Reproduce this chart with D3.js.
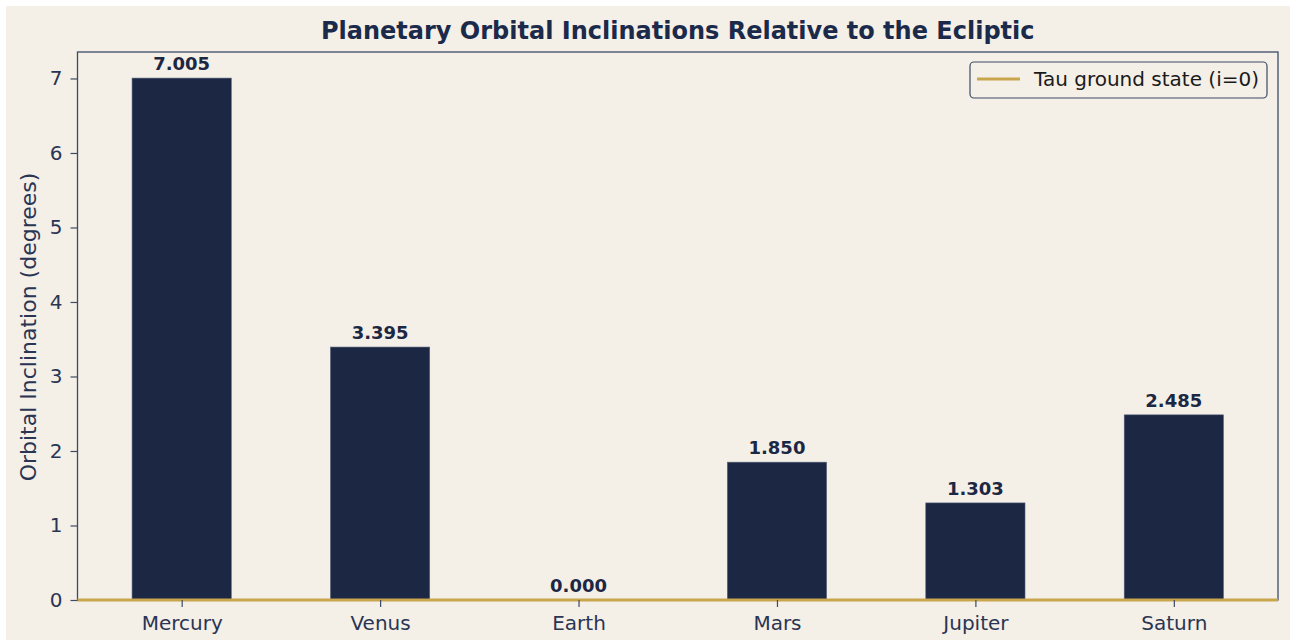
<!DOCTYPE html>
<html><head><meta charset="utf-8">
<script src="https://cdn.jsdelivr.net/npm/d3@7"></script>
<style>
html,body{margin:0;padding:0;background:#ffffff;}
svg{display:block;font-family:"DejaVu Sans",sans-serif;}
</style></head>
<body>
<svg id="chart" width="1290" height="643"></svg>
<script>
const planets = ["Mercury","Venus","Earth","Mars","Jupiter","Saturn"];
const inclinations = [7.005, 3.395, 0.000, 1.850, 1.303, 2.485];
const yTicks = [0,1,2,3,4,5,6,7];
const titleText = "Planetary Orbital Inclinations Relative to the Ecliptic";
const yLabelText = "Orbital Inclination (degrees)";
const legendText = "Tau ground state (i=0)";
const groundState = 0;

const navy = "#1b2743", gold = "#c9a64d", spine = "#3e4a66", bg = "#f4efe7", textCol = "#2a3553";
const svg = d3.select("#chart");
svg.append("rect").attr("x",6).attr("y",6).attr("width",1284).attr("height",634).attr("fill",bg);

const L = 77.5, R = 1278, T = 52, B = 600;
const x = d3.scaleLinear().domain([-0.525, planets.length - 1 + 0.525]).range([L, R]);
const y = d3.scaleLinear().domain([0, d3.max(inclinations) * 1.05]).range([B, T]);
const bw = x(0.25) - x(-0.25);

// bars
svg.append("g").selectAll("rect").data(inclinations).join("rect")
  .attr("x", (d,i) => x(i) - bw/2)
  .attr("y", d => y(d))
  .attr("width", bw)
  .attr("height", d => y(0) - y(d))
  .attr("fill", navy)
  .attr("stroke", "#55607a").attr("stroke-width", 0.6);

// value labels
svg.append("g").selectAll("text").data(inclinations).join("text")
  .attr("x", (d,i) => x(i))
  .attr("y", d => y(d) - 8)
  .attr("text-anchor","middle")
  .attr("font-size", 18).attr("font-weight","bold").attr("fill", navy)
  .text(d => d.toFixed(3));

// spines
svg.append("rect").attr("x", L).attr("y", T).attr("width", R-L).attr("height", B-T)
  .attr("fill","none").attr("stroke", spine).attr("stroke-width", 1.3);
// ground state line
svg.append("line").attr("x1", L).attr("x2", R).attr("y1", y(groundState)).attr("y2", y(groundState))
  .attr("stroke", gold).attr("stroke-width", 2.8);

// y axis
const yAxis = d3.axisLeft(y).tickValues(yTicks).tickFormat(d3.format("d")).tickSize(7).tickPadding(8);
const gy = svg.append("g").attr("transform", `translate(${L},0)`).call(yAxis);
gy.select(".domain").remove();
gy.selectAll(".tick line").attr("stroke", spine).attr("stroke-width", 1.2);
gy.selectAll(".tick text").attr("font-size", 20).attr("fill", textCol).attr("font-family","DejaVu Sans");

// x axis
const xAxis = d3.axisBottom(x).tickValues(d3.range(planets.length)).tickFormat(i => planets[i]).tickSize(7).tickPadding(9);
const gx = svg.append("g").attr("transform", `translate(0,${B})`).call(xAxis);
gx.select(".domain").remove();
gx.selectAll(".tick line").attr("stroke", spine).attr("stroke-width", 1.2);
gx.selectAll(".tick text").attr("font-size", 20).attr("fill", textCol).attr("font-family","DejaVu Sans");

// title
svg.append("text").attr("x", (L+R)/2).attr("y", 39).attr("text-anchor","middle")
  .attr("font-size", 24).attr("font-weight","bold").attr("fill", "#1b2a4a").text(titleText);

// y label
svg.append("text").attr("transform", `translate(36,${(T+B)/2 + 1}) rotate(-90)`).attr("text-anchor","middle")
  .attr("font-size", 22).attr("fill", textCol).text(yLabelText);

// legend
const lg = svg.append("g");
lg.append("rect").attr("x", 970).attr("y", 62).attr("width", 297).attr("height", 36).attr("rx", 4)
  .attr("fill", bg).attr("stroke", spine).attr("stroke-width", 1.2);
lg.append("line").attr("x1", 977).attr("x2", 1020).attr("y1", 79).attr("y2", 79).attr("stroke", gold).attr("stroke-width", 3);
lg.append("text").attr("x", 1034).attr("y", 86).attr("font-size", 20).attr("fill", "#1a1a1a").text(legendText);
</script>
</body></html>
